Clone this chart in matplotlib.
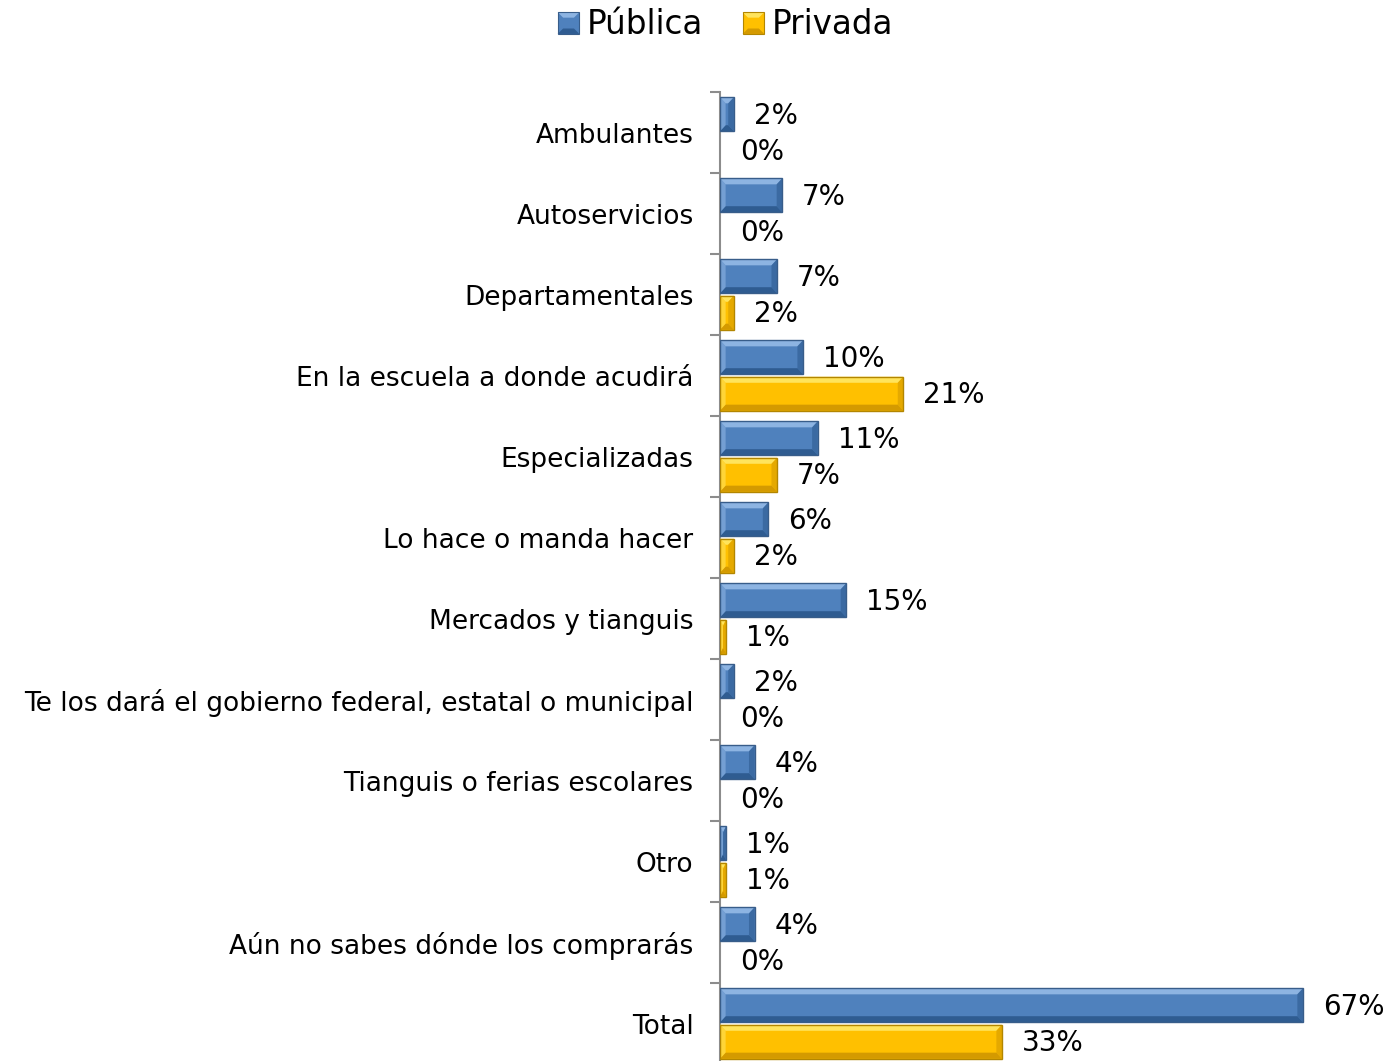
import matplotlib
matplotlib.use("Agg")
import matplotlib.pyplot as plt
from matplotlib.patches import Polygon, Patch
from matplotlib.legend_handler import HandlerPatch

categorias = ["Ambulantes", "Autoservicios", "Departamentales",
              "En la escuela a donde acudirá", "Especializadas",
              "Lo hace o manda hacer", "Mercados y tianguis",
              "Te los dará el gobierno federal, estatal o municipal",
              "Tianguis o ferias escolares", "Otro",
              "Aún no sabes dónde los comprarás", "Total"]
publica = [1.6, 7.2, 6.6, 9.6, 11.3, 5.6, 14.6, 1.6, 4.0, 0.7, 4.0, 67.4]
privada = [0.0, 0.0, 1.6, 21.2, 6.6, 1.6, 0.7, 0.0, 0.0, 0.7, 0.0, 32.6]

AZUL = ("#4F81BD", "#8DB4E2", "#2F5C91", "#385D8A")
AMARILLO = ("#FFC000", "#FFE45C", "#D49A00", "#B38600")

plt.rcParams["font.family"] = ["DejaVu Sans"]

fig = plt.figure(figsize=(13.86, 10.61), dpi=100)
ax = fig.add_axes([720 / 1386, -3 / 1061, 666 / 1386, 972 / 1061])
ax.set_xlim(0, 77)
ax.set_ylim(len(categorias) - 0.5, -0.5)


def barra(ax, y, w, h, colores):
    base, claro, oscuro, borde = colores
    if w <= 0:
        return
    # bevel size in data units (about 6 px)
    bx = min(0.65, w / 2)
    by = 0.075
    y0, y1 = y - h / 2, y + h / 2
    ax.add_patch(Polygon([(0, y0), (w, y0), (w, y1), (0, y1)], closed=True,
                         facecolor=base, edgecolor="none", zorder=2))
    ax.add_patch(Polygon([(0, y0), (w, y0), (w - bx, y0 + by), (bx, y0 + by)],
                         closed=True, facecolor=claro, edgecolor="none", zorder=3))
    ax.add_patch(Polygon([(0, y1), (w, y1), (w - bx, y1 - by), (bx, y1 - by)],
                         closed=True, facecolor=oscuro, edgecolor="none", zorder=3))
    ax.add_patch(Polygon([(w, y0), (w, y1), (w - bx, y1 - by), (w - bx, y0 + by)],
                         closed=True, facecolor=oscuro, edgecolor="none", alpha=0.6, zorder=3))
    ax.add_patch(Polygon([(0, y0), (0, y1), (bx, y1 - by), (bx, y0 + by)],
                         closed=True, facecolor=claro, edgecolor="none", alpha=0.6, zorder=3))
    ax.add_patch(Polygon([(0, y0), (w, y0), (w, y1), (0, y1)], closed=True,
                         facecolor="none", edgecolor=borde, lw=1.0, zorder=4))


alto = 0.42
for i, (p, q) in enumerate(zip(publica, privada)):
    barra(ax, i - 0.225, p, alto, AZUL)
    barra(ax, i + 0.225, q, alto, AMARILLO)
    ax.text(p + 2.3, i - 0.2, f"{int(p + 0.5)}%", fontsize=20,
            va="center", ha="left", color="black")
    ax.text(q + 2.3, i + 0.24, f"{int(q + 0.5)}%", fontsize=20,
            va="center", ha="left", color="black")

ax.set_yticks(range(len(categorias)))
ax.set_yticklabels(categorias, fontsize=19)
ax.tick_params(axis="y", which="major", length=0, pad=19)
ax.set_yticks([i - 0.5 for i in range(len(categorias) + 1)], minor=True)
ax.tick_params(axis="y", which="minor", length=7, width=1.5, color="#8C8C8C")
ax.set_xticks([])
for s in ["top", "right", "bottom"]:
    ax.spines[s].set_visible(False)
ax.spines["left"].set_color("#8C8C8C")
ax.spines["left"].set_linewidth(1.5)
ax.patch.set_alpha(0)


class Bisel(HandlerPatch):
    def __init__(self, colores):
        super().__init__()
        self.colores = colores

    def create_artists(self, legend, orig_handle, xdescent, ydescent,
                       width, height, fontsize, trans):
        base, claro, oscuro, borde = self.colores
        s = height * 0.95
        x0 = -xdescent + (width - s) / 2
        y0 = -ydescent + (height - s) / 2
        b = s * 0.25
        arts = [
            Polygon([(x0, y0), (x0 + s, y0), (x0 + s, y0 + s), (x0, y0 + s)],
                    facecolor=base, edgecolor="none"),
            Polygon([(x0, y0 + s), (x0 + s, y0 + s), (x0 + s - b, y0 + s - b), (x0 + b, y0 + s - b)],
                    facecolor=claro, edgecolor="none"),
            Polygon([(x0, y0), (x0 + s, y0), (x0 + s - b, y0 + b), (x0 + b, y0 + b)],
                    facecolor=oscuro, edgecolor="none"),
            Polygon([(x0, y0), (x0 + s, y0), (x0 + s, y0 + s), (x0, y0 + s)],
                    facecolor="none", edgecolor=borde, lw=0.8),
        ]
        for a in arts:
            a.set_transform(trans)
        return arts


h1 = Patch(facecolor=AZUL[0], label="Pública")
h2 = Patch(facecolor=AMARILLO[0], label="Privada")
fig.legend(handles=[h1, h2], loc="center", bbox_to_anchor=(725 / 1386, 1 - 25 / 1061),
           ncol=2, frameon=False, fontsize=23.5, handlelength=0.7, handleheight=0.7,
           handletextpad=0.2, columnspacing=1.2,
           handler_map={h1: Bisel(AZUL), h2: Bisel(AMARILLO)})

fig.savefig("out.png", dpi=100, facecolor="white")
